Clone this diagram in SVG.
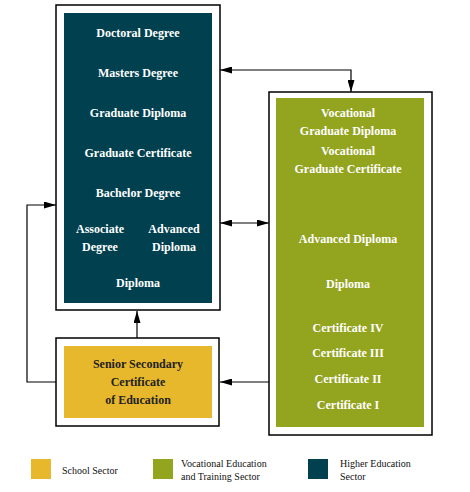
<svg xmlns="http://www.w3.org/2000/svg" width="470" height="492" viewBox="0 0 470 492" font-family="'Liberation Serif', 'Times New Roman', serif">
<defs>
<marker id="ah" viewBox="0 0 12 7" refX="12" refY="3.5" markerWidth="12" markerHeight="7" markerUnits="userSpaceOnUse" orient="auto-start-reverse">
<path d="M0,0 L12,3.5 L0,7 Z" fill="#000"/>
</marker>
</defs>
<style>
.frame{fill:#fff;stroke:#000;stroke-width:1.5}
.he{fill:#01404f}
.vet{fill:#93a41f}
.sch{fill:#e8b82c}
.t{font-family:'Liberation Serif','Times New Roman',serif;font-weight:bold;font-size:12px;fill:#fff;text-anchor:middle}
.td{fill:#222}
.lg{font-family:'Liberation Serif','Times New Roman',serif;font-size:10px;fill:#111}
.c{fill:none;stroke:#000;stroke-width:1.2}
</style>
<rect width="470" height="492" fill="#fff"/>
<g id="higher-education">
<rect class="frame" x="56" y="5" width="164" height="305"/>
<rect class="he" x="64" y="13" width="148" height="290"/>
<text class="t" x="138" y="37">Doctoral Degree</text>
<text class="t" x="138" y="77">Masters Degree</text>
<text class="t" x="138" y="117">Graduate Diploma</text>
<text class="t" x="138" y="157">Graduate Certificate</text>
<text class="t" x="138" y="197">Bachelor Degree</text>
<text class="t" x="100" y="233">Associate</text>
<text class="t" x="100" y="251">Degree</text>
<text class="t" x="174" y="233">Advanced</text>
<text class="t" x="174" y="251">Diploma</text>
<text class="t" x="138" y="287">Diploma</text>
</g>
<g id="vet">
<rect class="frame" x="269" y="92" width="163" height="343"/>
<rect class="vet" x="276" y="98" width="148" height="329"/>
<text class="t" x="348" y="117">Vocational</text>
<text class="t" x="348" y="135">Graduate Diploma</text>
<text class="t" x="348" y="155">Vocational</text>
<text class="t" x="348" y="173">Graduate Certificate</text>
<text class="t" x="348" y="243">Advanced Diploma</text>
<text class="t" x="348" y="288">Diploma</text>
<text class="t" x="348" y="332">Certificate IV</text>
<text class="t" x="348" y="357">Certificate III</text>
<text class="t" x="348" y="383">Certificate II</text>
<text class="t" x="348" y="409">Certificate I</text>
</g>
<g id="school">
<rect class="frame" x="56" y="338" width="163" height="88"/>
<rect class="sch" x="64" y="346" width="148" height="72"/>
<text class="t td" x="138" y="368">Senior Secondary</text>
<text class="t td" x="138" y="386">Certificate</text>
<text class="t td" x="138" y="404">of Education</text>
</g>
<g id="connectors">
<path class="c" d="M137,338 L137,311" marker-end="url(#ah)"/>
<path class="c" d="M56,382 L27,382 L27,205 L56,205" marker-end="url(#ah)"/>
<path class="c" d="M269,382 L220,382" marker-end="url(#ah)"/>
<path class="c" d="M220,223 L269,223" marker-start="url(#ah)" marker-end="url(#ah)"/>
<path class="c" d="M220,70 L351,70 L351,92" marker-start="url(#ah)" marker-end="url(#ah)"/>
</g>
<g id="legend">
<rect class="sch" x="31" y="459" width="20" height="20"/>
<text class="lg" x="62" y="474">School Sector</text>
<rect class="vet" x="153" y="459" width="20" height="20"/>
<text class="lg" x="181" y="467">Vocational Education</text>
<text class="lg" x="181" y="480">and Training Sector</text>
<rect class="he" x="308" y="459" width="20" height="20"/>
<text class="lg" x="340" y="467">Higher Education</text>
<text class="lg" x="340" y="480">Sector</text>
</g>
</svg>
